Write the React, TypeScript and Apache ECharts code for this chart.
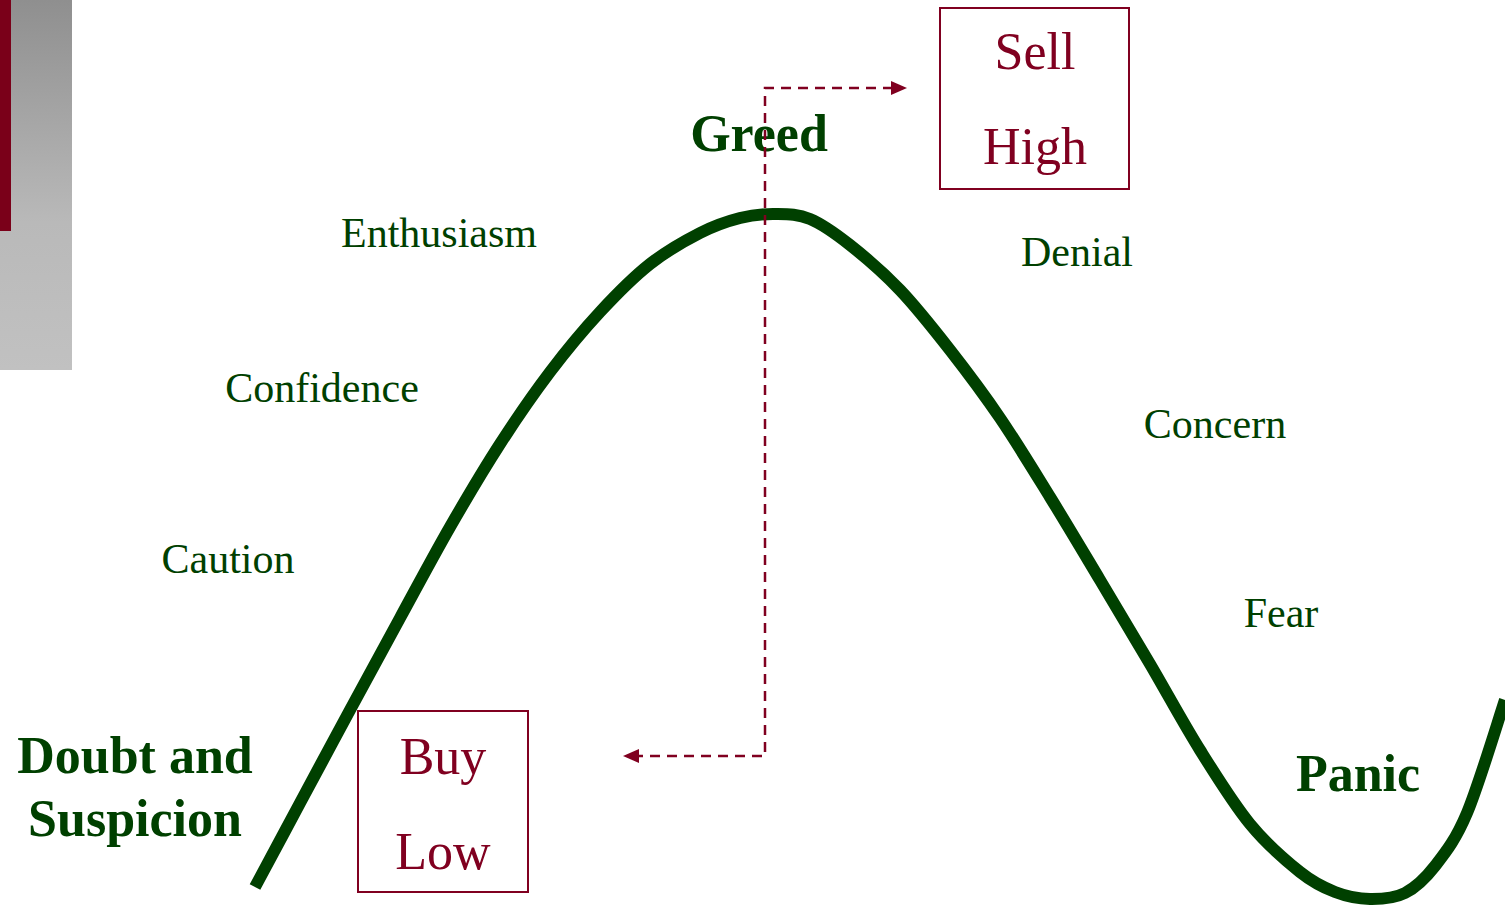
import React, { useEffect, useRef } from "react";
import * as echarts from "echarts";

// Market-cycle curve: x = time position, y = market level (higher = more euphoric)
const cycleX = [255, 300, 350, 400, 450, 500, 550, 600, 650, 700, 740, 775, 810, 850, 900, 950, 1000, 1050, 1100, 1150, 1200, 1250, 1300, 1335, 1370, 1405, 1435, 1467, 1505];
const cycleLevel = [21, 105, 198, 290, 381, 464, 536, 596, 644, 675, 690, 694, 689, 663, 618, 558, 490, 411, 328, 244, 158, 84, 36, 16, 9, 15, 42, 95, 208];

// Emotion labels
const phaseLabels = ["Enthusiasm", "Confidence", "Caution", "Denial", "Concern", "Fear"];
const boldLabels = ["Greed", "Doubt and", "Suspicion", "Panic"];
const actionLabels = ["Sell", "High", "Buy", "Low"];

const GREEN = "#004000";
const MAROON = "#800020";
const SERIF = '"Liberation Serif", "Times New Roman", serif';

export default function App() {
  const ref = useRef<HTMLDivElement>(null);
  useEffect(() => {
    if (!ref.current) return;
    const chart = echarts.init(ref.current, undefined, { renderer: "svg" });

    const phasePos = [
      [439, 233],
      [322, 388],
      [228, 559],
      [1077, 252],
      [1215, 424],
      [1281, 613],
    ];
    const boldPos = [
      [759, 133],
      [135, 755],
      [135, 818],
      [1358, 773],
    ];
    const actionPos = [
      [1035, 51],
      [1035, 146],
      [443, 756],
      [443, 851],
    ];

    const text = (t: string, p: number[], size: number, color: string, bold: boolean) => ({
      type: "text",
      x: p[0],
      y: p[1],
      z: 100,
      style: {
        text: t,
        fill: color,
        font: `${bold ? "bold " : ""}${size}px ${SERIF}`,
        align: "center",
        verticalAlign: "middle",
      },
    });

    const dash = { stroke: MAROON, lineWidth: 2.5, lineDash: [10, 7], fill: null };

    const graphics: any[] = [
      {
        type: "rect",
        shape: { x: 0, y: 0, width: 72, height: 370 },
        z: 1,
        style: {
          fill: new echarts.graphic.LinearGradient(0, 0, 0, 1, [
            { offset: 0, color: "#8f8f8f" },
            { offset: 0.6, color: "#b9b9b9" },
            { offset: 1, color: "#c1c1c1" },
          ]),
        },
      },
      {
        type: "rect",
        shape: { x: 0, y: 0, width: 11, height: 231 },
        z: 2,
        style: { fill: "#7a0019" },
      },
      {
        type: "rect",
        shape: { x: 940, y: 8, width: 189, height: 181 },
        z: 100,
        style: { fill: null, stroke: MAROON, lineWidth: 2 },
      },
      {
        type: "rect",
        shape: { x: 358, y: 711, width: 170, height: 181 },
        z: 100,
        style: { fill: null, stroke: MAROON, lineWidth: 2 },
      },
      ...phaseLabels.map((t, i) => text(t, phasePos[i], 42, GREEN, false)),
      ...boldLabels.map((t, i) => text(t, boldPos[i], 52, GREEN, true)),
      ...actionLabels.map((t, i) => text(t, actionPos[i], 52, MAROON, false)),
      {
        type: "polyline",
        z: 110,
        shape: { points: [[893, 88], [765, 88], [765, 756], [637, 756]] },
        style: dash,
      },
      {
        type: "polygon",
        z: 110,
        shape: { points: [[907, 88], [891, 81], [891, 95]] },
        style: { fill: MAROON },
      },
      {
        type: "polygon",
        z: 110,
        shape: { points: [[623, 756], [639, 749], [639, 763]] },
        style: { fill: MAROON },
      },
    ];

    const curveData = cycleX.map((x, i) => [x, cycleLevel[i]]);

    chart.setOption({
      animation: false,
      grid: { left: 0, right: 0, top: 0, bottom: 0 },
      xAxis: { type: "value", min: 0, max: 1505, show: false },
      yAxis: { type: "value", min: 0, max: 908, show: false },
      series: [
        {
          type: "custom",
          data: curveData,
          encode: { x: 0, y: 1 },
          clip: false,
          z: 5,
          renderItem: (params: any, api: any) => {
            if (params.dataIndex !== 0) return null;
            const pts = curveData.map((d) => api.coord(d));
            const n = pts.length;
            let d = `M${pts[0][0]},${pts[0][1]}`;
            for (let i = 0; i < n - 1; i++) {
              const p0 = pts[Math.max(0, i - 1)];
              const p1 = pts[i];
              const p2 = pts[i + 1];
              const p3 = pts[Math.min(n - 1, i + 2)];
              const c1x = p1[0] + (p2[0] - p0[0]) / 6;
              const c1y = p1[1] + (p2[1] - p0[1]) / 6;
              const c2x = p2[0] - (p3[0] - p1[0]) / 6;
              const c2y = p2[1] - (p3[1] - p1[1]) / 6;
              d += ` C${c1x},${c1y} ${c2x},${c2y} ${p2[0]},${p2[1]}`;
            }
            return {
              type: "path",
              shape: { pathData: d },
              style: { fill: "none", stroke: GREEN, lineWidth: 12, lineCap: "butt", lineJoin: "round" },
            };
          },
        },
      ],
      graphic: graphics,
    });
    return () => chart.dispose();
  }, []);
  return (
    <div
      ref={ref}
      style={{ position: "absolute", left: 0, top: 0, width: 1505, height: 908, background: "#fff" }}
    />
  );
}
